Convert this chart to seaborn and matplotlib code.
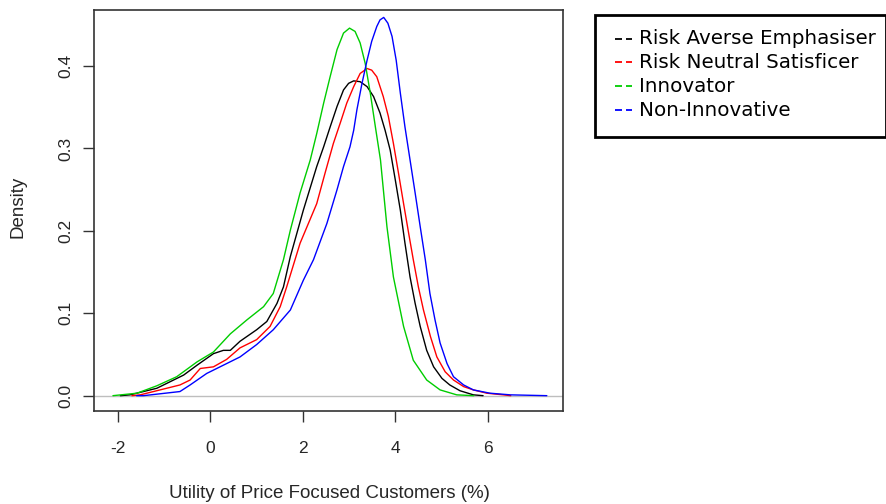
import matplotlib
matplotlib.use("Agg")
import matplotlib.pyplot as plt
from matplotlib.patches import Rectangle
from matplotlib.lines import Line2D
import pandas as pd
import seaborn as sns

# Density curves of the utility of price focused customers, per segment
series_names = ["Risk Averse Emphasiser", "Risk Neutral Satisficer", "Innovator", "Non-Innovative"]
series_colors = ["#000000", "#FF0000", "#00CD00", "#0000FF"]

averse_x = [-1.95, -1.74, -1.16, -0.58, -0.29, 0.065, 0.28, 0.43, 0.64, 1.0, 1.22, 1.44, 1.58,
            1.73, 2.01, 2.30, 2.45, 2.59, 2.74, 2.88, 2.99, 3.10, 3.24, 3.39, 3.53, 3.67, 3.78,
            3.89, 4.0, 4.11, 4.21, 4.32, 4.43, 4.54, 4.68, 4.83, 5.01, 5.18, 5.40, 5.69, 5.9]
averse_y = [0.0, 0.001, 0.009, 0.025, 0.037, 0.051, 0.055, 0.055, 0.066, 0.080, 0.090, 0.112,
            0.132, 0.169, 0.225, 0.278, 0.302, 0.326, 0.351, 0.371, 0.379, 0.382, 0.381, 0.375,
            0.363, 0.343, 0.322, 0.298, 0.262, 0.225, 0.185, 0.144, 0.112, 0.084, 0.055, 0.035,
            0.021, 0.013, 0.006, 0.001, 0.0]

neutral_x = [-1.7, -1.52, -0.66, -0.44, -0.22, 0.065, 0.35, 0.64, 1.0, 1.29, 1.51, 1.65, 1.94,
             2.30, 2.48, 2.66, 2.81, 2.95, 3.10, 3.24, 3.39, 3.49, 3.60, 3.74, 3.85, 3.96, 4.07,
             4.18, 4.29, 4.39, 4.50, 4.61, 4.76, 4.90, 5.08, 5.26, 5.48, 5.69, 5.98, 6.34, 6.5]
neutral_y = [0.0, 0.001, 0.013, 0.019, 0.033, 0.035, 0.044, 0.058, 0.068, 0.084, 0.108, 0.132,
             0.185, 0.233, 0.270, 0.306, 0.331, 0.355, 0.375, 0.391, 0.397, 0.395, 0.387, 0.363,
             0.339, 0.306, 0.270, 0.233, 0.197, 0.165, 0.132, 0.104, 0.072, 0.047, 0.029, 0.019,
             0.011, 0.007, 0.003, 0.001, 0.0]

innovator_x = [-2.11, -1.59, -1.16, -0.73, -0.29, 0.065, 0.43, 0.79, 1.15, 1.36, 1.58, 1.73,
               1.94, 2.16, 2.30, 2.45, 2.59, 2.74, 2.88, 3.01, 3.13, 3.24, 3.35, 3.46, 3.57, 3.68,
               3.82, 3.96, 4.18, 4.39, 4.68, 4.97, 5.33, 5.7]
innovator_y = [0.0, 0.003, 0.012, 0.023, 0.041, 0.053, 0.075, 0.092, 0.108, 0.124, 0.165, 0.201,
               0.246, 0.286, 0.318, 0.355, 0.387, 0.420, 0.440, 0.446, 0.442, 0.428, 0.403, 0.367,
               0.326, 0.286, 0.205, 0.144, 0.084, 0.043, 0.019, 0.007, 0.001, 0.0]

noninnov_x = [-1.6, -1.45, -0.66, -0.44, -0.08, 0.28, 0.64, 1.0, 1.36, 1.73, 2.01, 2.23, 2.52,
              2.74, 2.88, 3.02, 3.10, 3.17, 3.28, 3.39, 3.49, 3.60, 3.67, 3.75, 3.84, 3.93, 4.02,
              4.11, 4.21, 4.32, 4.43, 4.54, 4.65, 4.75, 4.86, 4.97, 5.12, 5.26, 5.48, 5.69, 6.05,
              6.49, 7.28]
noninnov_y = [0.0, 0.0, 0.005, 0.013, 0.027, 0.037, 0.047, 0.062, 0.080, 0.104, 0.140, 0.165,
              0.209, 0.250, 0.278, 0.302, 0.322, 0.347, 0.379, 0.407, 0.430, 0.448, 0.456, 0.459,
              0.452, 0.436, 0.407, 0.367, 0.326, 0.286, 0.246, 0.205, 0.165, 0.124, 0.092, 0.064,
              0.039, 0.023, 0.013, 0.007, 0.003, 0.001, 0.0]

x_ticks = [-2, 0, 2, 4, 6]
y_ticks = [0.0, 0.1, 0.2, 0.3, 0.4]
y_tick_labels = ["0.0", "0.1", "0.2", "0.3", "0.4"]

frames = []
for name, xs, ys in zip(series_names,
                        [averse_x, neutral_x, innovator_x, noninnov_x],
                        [averse_y, neutral_y, innovator_y, noninnov_y]):
    frames.append(pd.DataFrame({"utility": xs, "density": ys, "segment": name}))
df = pd.concat(frames, ignore_index=True)

sns.set_style("white")
plt.rcParams["font.family"] = ["Liberation Sans", "DejaVu Sans"]

W, H = 887, 504
fig = plt.figure(figsize=(W / 100, H / 100), dpi=100)
ax = fig.add_axes([94 / W, 1 - 411 / H, (563 - 94) / W, (411 - 10) / H])

ax.axhline(0, color="#BEBEBE", linewidth=1.0, zorder=1)
sns.lineplot(data=df, x="utility", y="density", hue="segment", hue_order=series_names,
             palette=series_colors, sort=False, estimator=None, linewidth=1.0,
             legend=False, ax=ax, zorder=2)

ax.set_xlim(-2.52, 7.63)
ax.set_ylim(-0.0186, 0.468)
ax.set_xticks(x_ticks)
ax.set_xticklabels([str(t) for t in x_ticks], fontsize=12.5)
ax.set_yticks(y_ticks)
ax.set_yticklabels(y_tick_labels, fontsize=12.5, rotation=90, va="center")
ax.tick_params(axis="both", direction="out", length=8, width=1.0, color="#333333",
               bottom=True, left=True)
ax.tick_params(axis="x", pad=13.5)
ax.tick_params(axis="y", pad=6.5)
for spine in ax.spines.values():
    spine.set_visible(True)
    spine.set_color("#333333")
    spine.set_linewidth(1.2)
ax.set_xlabel("")
ax.set_ylabel("")

fig.text(329 / W, 1 - 493 / H, "Utility of Price Focused Customers (%)", fontsize=13.5,
         ha="center", va="center")
fig.text(17.5 / W, 1 - 207 / H, "Density", fontsize=13.5, rotation=90,
         ha="center", va="center")

# Legend box drawn in figure space
fig.patches.append(Rectangle((595 / W, 1 - 137 / H), (886 - 595) / W, (137 - 15) / H,
                             transform=fig.transFigure, fill=False, edgecolor="black",
                             linewidth=2.0))
for i, (name, col) in enumerate(zip(series_names, series_colors)):
    ypix = 38.5 + i * 23.9
    yf = 1 - ypix / H
    for x0, x1 in [(615, 622), (625.5, 632)]:
        fig.lines.append(Line2D([x0 / W, x1 / W], [yf, yf], transform=fig.transFigure,
                                color=col, linewidth=1.3, solid_capstyle="butt"))
    fig.text(639 / W, yf, name, color="black", fontsize=14.3,
             family="DejaVu Sans", va="center", ha="left")

fig.savefig("out.png", dpi=100)
